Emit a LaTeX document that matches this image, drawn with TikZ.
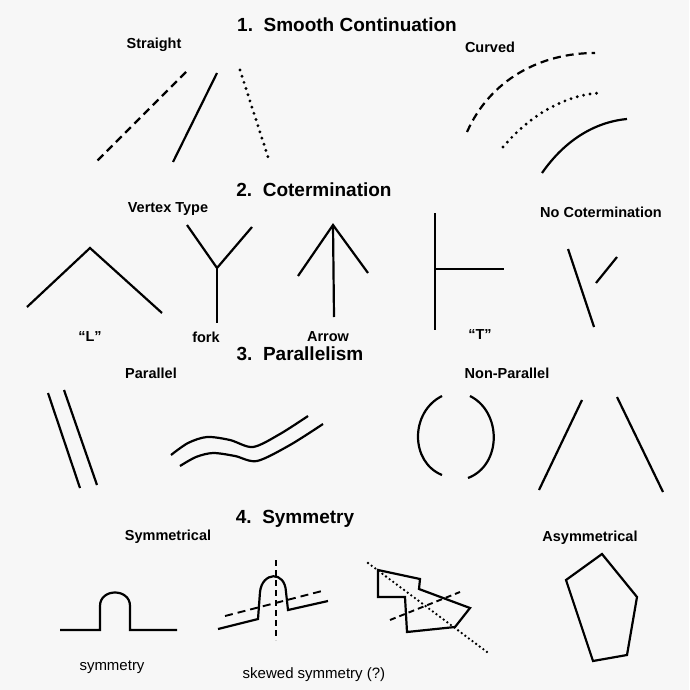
\documentclass[tikz,border=0pt]{standalone}
\usepackage{fontspec}
\setsansfont{Liberation Sans}
\usetikzlibrary{positioning}

\begin{document}
\begin{tikzpicture}[x=1pt, y=-1pt, line width=2.2pt,
    heading/.style={font=\sffamily\bfseries\fontsize{19}{22}\selectfont},
    tag/.style={font=\sffamily\bfseries\fontsize{14.5}{17}\selectfont},
    note/.style={font=\sffamily\fontsize{15}{18}\selectfont},
    dashline/.style={dash pattern=on 8pt off 5pt},
    dotline/.style={line cap=round, line width=3.2pt, dash pattern=on 0pt off 6.5pt}]
        \fill[white!97!black] (0,0) rectangle (689,690);
        \useasboundingbox (0,0) rectangle (689,690);

        \node[heading] (smooth) at (347,25) {1.\ \ Smooth Continuation};
        \node[tag] (straight) at (154,45) {Straight};
        \node[tag] (curved) at (490,47) {Curved};
        \draw[dashline] (186,72) -- (96,162);
        \draw (217,73) -- (173,162);
        \draw[dotline] (240,70) -- (268,157);
        \draw[dashline] (467,132) .. controls (490,80) and (540,53) .. (595,53);
        \draw[dotline] (503,147) .. controls (530,115) and (565,95) .. (600,93);
        \draw (542,173) .. controls (565,140) and (595,122) .. (627,119);

        \node[heading] (coterm) at (314,190) {2.\ \ Cotermination};
        \node[tag] (vertex) at (168,209) {Vertex Type};
        \node[tag] (nocoterm) at (601,212) {No Cotermination};
        \coordinate (L) at (90,248);
        \coordinate (F) at (217,268);
        \coordinate (A) at (333,225);
        \coordinate (T) at (435,269);
        \draw (27,307) -- (L) -- (162,313);
        \draw (187,225) -- (F) -- (252,227);
        \draw (F) -- (217,323);
        \draw (298,276) -- (A) -- (368,273);
        \draw (A) -- (334,317);
        \draw (435,213) -- (435,330);
        \draw (T) -- (504,269);
        \draw (568,249) -- (594,327);
        \draw (596,283) -- (617,257);
        \node[tag] (Llab) at (90,337) {“L”};
        \node[tag] (forklab) at (206,337) {fork};
        \node[tag] (arrowlab) at (328,337) {Arrow};
        \node[tag] (Tlab) at (480,335) {“T”};

        \node[heading] (parallel) at (300,354) {3.\ \ Parallelism};
        \node[tag] (par) at (151,373) {Parallel};
        \node[tag] (nonpar) at (507,373) {Non-Parallel};
        \draw (48,393) -- (80,488);
        \draw (64,390) -- (97,485);
        \draw plot[smooth] coordinates {(171,455) (188,443) (207,437) (230,440) (253,447) (280,434) (308,416)};
        \draw plot[smooth] coordinates {(180,466) (196,457) (213,453) (235,456) (257,461) (290,445) (323,424)};
        \draw (442,396) .. controls (410,412) and (410,462) .. (442,475);
        \draw (470,396) .. controls (502,412) and (502,465) .. (468,478);
        \draw (582,400) -- (539,490);
        \draw (617,397) -- (663,492);

        \node[heading] (symm) at (295,519) {4.\ \ Symmetry};
        \node[tag] (symlab) at (168,537) {Symmetrical};
        \node[tag] (asymlab) at (590,538) {Asymmetrical};
        \draw (60,630) -- (100,630) -- (100,606) .. controls (100,588) and (130,588) .. (130,606) -- (130,630) -- (177,630);
        \draw (218,629) -- (258,619) -- (260,592) .. controls (262,572) and (285,570) .. (286,592) -- (288,610) -- (328,601);
        \draw[line width=1.9pt, dash pattern=on 6pt off 4pt] (276,560) -- (276,640);
        \draw[line width=1.9pt, dash pattern=on 8pt off 5pt] (225,616) -- (322,591);
        \draw (378,570) -- (420,579) -- (419,589) -- (470,608) -- (455,627) -- (407,632) -- (405,597) -- (378,597) -- cycle;
        \draw[line width=2.6pt, line cap=round, dash pattern=on 0pt off 4.5pt] (368,563) -- (487,652);
        \draw[line width=1.9pt, dash pattern=on 6pt off 4pt] (390,620) -- (460,592);
        \draw (602,554) -- (637,597) -- (627,655) -- (593,661) -- (566,580) -- cycle;
        \node[note] (symnote) at (112,667) {symmetry};
        \node[note] (skewnote) at (314,675) {skewed symmetry (?)};
    \end{tikzpicture}
\end{document}
